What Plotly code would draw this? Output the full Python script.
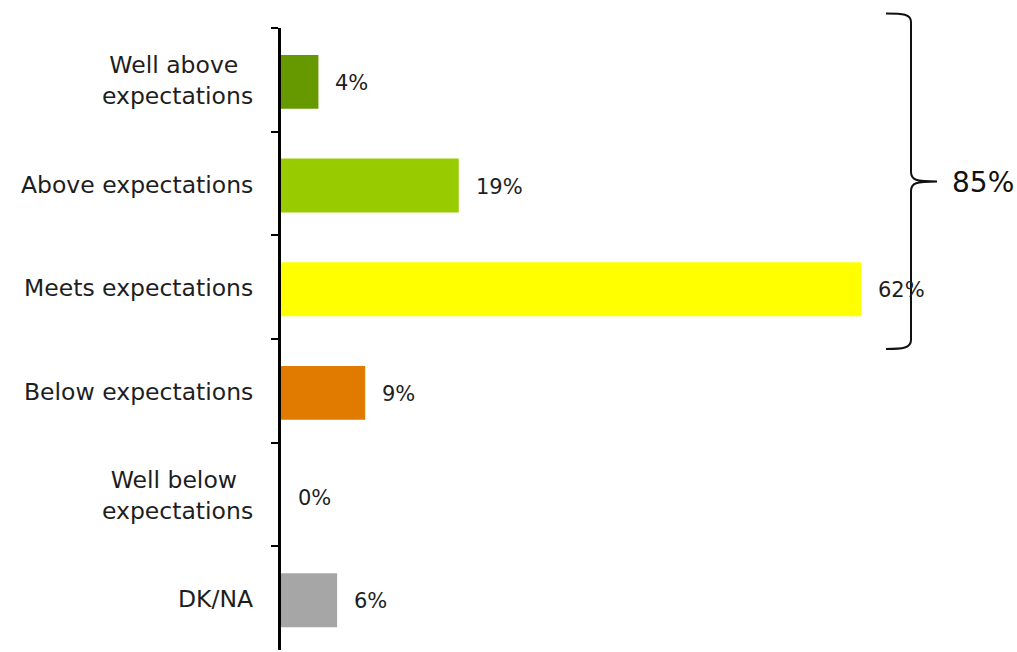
import plotly.graph_objects as go

# Survey results: rating distribution
categories = [
    "Well above expectations",
    "Above expectations",
    "Meets expectations",
    "Below expectations",
    "Well below expectations",
    "DK/NA",
]
axis_labels = [
    "Well above <br>expectations",
    "Above expectations",
    "Meets expectations",
    "Below expectations",
    "Well below <br>expectations",
    "DK/NA",
]
values = [4, 19, 62, 9, 0, 6]
colors = ["#669900", "#99CC00", "#FFFF00", "#E07B00", "#A6A6A6", "#A6A6A6"]
total_label = "85%"

W, H = 1017, 652
L, R, T, B = 281, 0, 28, 2
PX_PER_UNIT = 9.355
x_max = (W - L - R) / PX_PER_UNIT

FONT = "DejaVu Sans"
TEXT = "#1e1e1e"


def px(x):
    return (x - L) / (W - L - R)


def py(y):
    return (H - B - y) / (H - T - B)


fig = go.Figure(
    go.Bar(
        x=values,
        y=categories,
        orientation="h",
        marker=dict(color=colors, line=dict(width=0)),
        width=0.52,
        offset=-0.24,
        hoverinfo="skip",
    )
)

annotations = []
# value labels to the right of each bar
for cat, v in zip(categories, values):
    annotations.append(dict(
        x=v, y=cat, xref="x", yref="y", text=f"{v}%",
        showarrow=False, xanchor="left", xshift=15, yshift=-3,
        font=dict(family=FONT, size=21, color=TEXT),
    ))
# category labels, centred line by line
for cat, lab in zip(categories, axis_labels):
    annotations.append(dict(
        x=0, y=cat, xref="paper", yref="y", text=lab,
        showarrow=False, xanchor="right", align="center", xshift=-26,
        yshift=-1,
        font=dict(family=FONT, size=23.5, color=TEXT),
    ))
# bracket total
annotations.append(dict(
    x=px(950), y=py(183), xref="paper", yref="paper", text=total_label,
    showarrow=False, xanchor="left", yanchor="middle",
    font=dict(family=FONT, size=28, color="#111111"),
))

# curly brace grouping the top three ratings
pts = [
    ("M", [(886, 13.5)]),
    ("C", [(903, 13.5), (911, 14), (911, 22)]),
    ("L", [(911, 172)]),
    ("C", [(911, 180), (916, 181.5), (937, 181.5)]),
    ("C", [(916, 181.5), (911, 183), (911, 191)]),
    ("L", [(911, 340)]),
    ("C", [(911, 348), (903, 349), (886, 349)]),
]
path = " ".join(
    cmd + " " + " ".join(f"{px(a):.5f},{py(b):.5f}" for a, b in coords)
    for cmd, coords in pts
)

fig.update_layout(
    width=W, height=H,
    margin=dict(l=L, r=R, t=T, b=B),
    paper_bgcolor="white", plot_bgcolor="white",
    showlegend=False,
    annotations=annotations,
    shapes=[dict(type="path", path=path, xref="paper", yref="paper",
                 line=dict(color="#111111", width=2))],
    xaxis=dict(range=[0, x_max], visible=False, showgrid=False, zeroline=False),
    yaxis=dict(
        categoryorder="array", categoryarray=categories, autorange="reversed",
        showline=True, linecolor="black", linewidth=3,
        ticks="outside", tickson="boundaries", ticklen=7, tickwidth=2,
        tickcolor="black", showticklabels=False, showgrid=False,
        zeroline=False,
    ),
)

fig.write_html("out.html")
